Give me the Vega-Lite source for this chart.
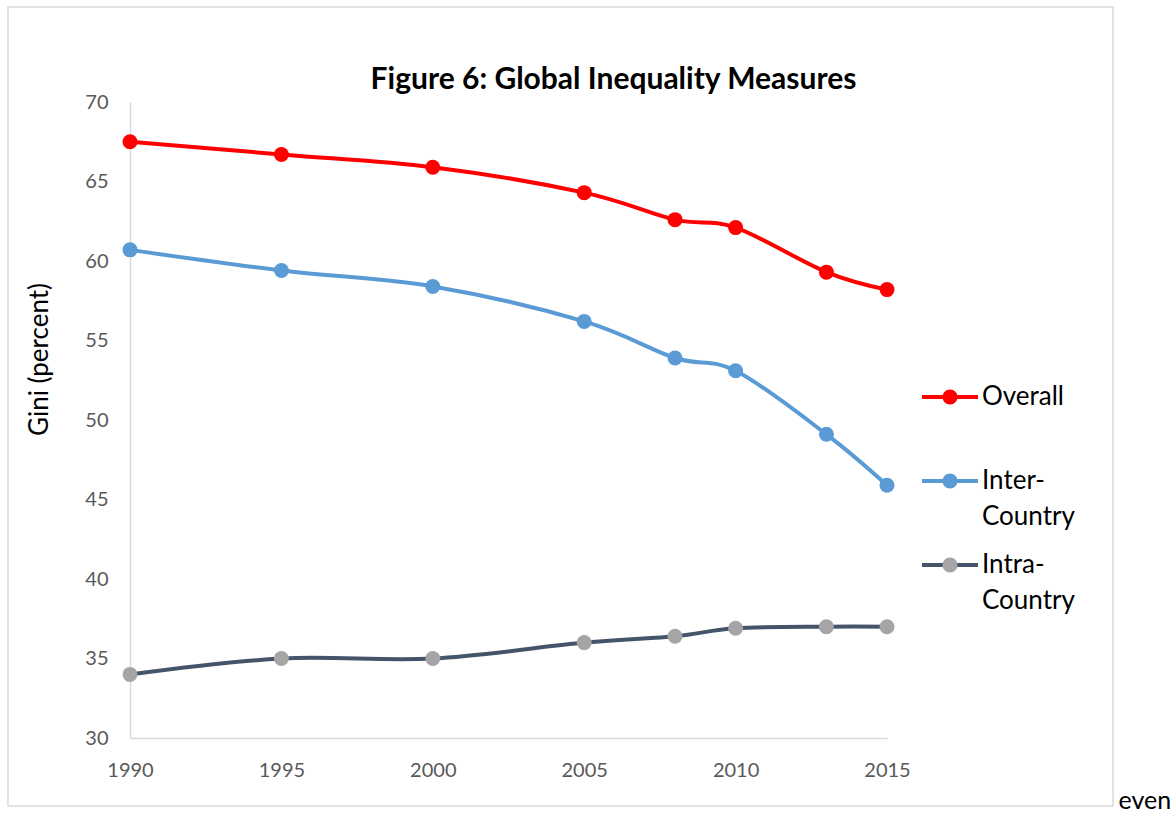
{
  "$schema": "https://vega.github.io/schema/vega-lite/v6.json",
  "width": 1105,
  "height": 799,
  "autosize": {"type": "none"},
  "padding": {"left": 8, "top": 7, "right": 63, "bottom": 8},
  "background": "white",
  "config": {
    "view": {"stroke": "#D9D9D9", "strokeWidth": 1.5},
    "font": "Lato",
    "style": {"guide-label": {"lineHeight": 36}}
  },
  "title": {
    "text": "Figure 6: Global Inequality Measures",
    "font": "Lato",
    "fontSize": 30,
    "fontWeight": "bold",
    "color": "#000000",
    "anchor": "middle",
    "frame": "group",
    "orient": "top",
    "baseline": "alphabetic",
    "offset": -112,
    "dx": 53
  },
  "data": {
    "values": [
      {"year": 1990, "series": "Overall", "gini": 67.5},
      {"year": 1995, "series": "Overall", "gini": 66.7},
      {"year": 2000, "series": "Overall", "gini": 65.9},
      {"year": 2005, "series": "Overall", "gini": 64.3},
      {"year": 2008, "series": "Overall", "gini": 62.6},
      {"year": 2010, "series": "Overall", "gini": 62.1},
      {"year": 2013, "series": "Overall", "gini": 59.3},
      {"year": 2015, "series": "Overall", "gini": 58.2},
      {"year": 1990, "series": "Inter-Country", "gini": 60.7},
      {"year": 1995, "series": "Inter-Country", "gini": 59.4},
      {"year": 2000, "series": "Inter-Country", "gini": 58.4},
      {"year": 2005, "series": "Inter-Country", "gini": 56.2},
      {"year": 2008, "series": "Inter-Country", "gini": 53.9},
      {"year": 2010, "series": "Inter-Country", "gini": 53.1},
      {"year": 2013, "series": "Inter-Country", "gini": 49.1},
      {"year": 2015, "series": "Inter-Country", "gini": 45.9},
      {"year": 1990, "series": "Intra-Country", "gini": 34.0},
      {"year": 1995, "series": "Intra-Country", "gini": 35.0},
      {"year": 2000, "series": "Intra-Country", "gini": 35.0},
      {"year": 2005, "series": "Intra-Country", "gini": 36.0},
      {"year": 2008, "series": "Intra-Country", "gini": 36.4},
      {"year": 2010, "series": "Intra-Country", "gini": 36.9},
      {"year": 2013, "series": "Intra-Country", "gini": 37.0},
      {"year": 2015, "series": "Intra-Country", "gini": 37.0}
    ]
  },
  "encoding": {
    "x": {
      "field": "year",
      "type": "quantitative",
      "scale": {"domain": [1990, 2015], "range": [122, 879], "nice": false, "zero": false},
      "axis": {
        "title": "even",
        "titleX": 1110,
        "titleY": 70,
        "titleAlign": "left",
        "titleBaseline": "alphabetic",
        "titleFont": "Lato",
        "titleFontSize": 25,
        "titleFontWeight": "normal",
        "titleColor": "#000000",
        "values": [1990, 1995, 2000, 2005, 2010, 2015],
        "format": "d",
        "offset": -68,
        "grid": false,
        "ticks": false,
        "tickSize": 0,
        "domainColor": "#D9D9D9",
        "domainWidth": 1.5,
        "labelFont": "Lato",
        "labelFontSize": 20,
        "labelColor": "#595959",
        "labelPadding": 22,
        "labelBaseline": "top",
        "labelFlush": false,
        "labelBound": false,
        "labelOverlap": false
      }
    },
    "y": {
      "field": "gini",
      "type": "quantitative",
      "scale": {"domain": [30, 70], "range": [731, 95], "nice": false, "zero": false},
      "axis": {
        "title": "Gini (percent)",
        "titleX": -91,
        "titleY": 352,
        "titleAngle": -90,
        "titleAlign": "center",
        "titleBaseline": "middle",
        "titleFont": "Lato",
        "titleFontSize": 26,
        "titleFontWeight": "normal",
        "titleColor": "#000000",
        "values": [30, 35, 40, 45, 50, 55, 60, 65, 70],
        "offset": -122,
        "grid": false,
        "ticks": false,
        "tickSize": 0,
        "domainColor": "#D9D9D9",
        "domainWidth": 1.5,
        "labelFont": "Lato",
        "labelFontSize": 20,
        "labelColor": "#595959",
        "labelPadding": 22,
        "labelFlush": false,
        "labelOverlap": false
      }
    }
  },
  "layer": [
    {
      "mark": {"type": "line", "interpolate": "cardinal", "strokeWidth": 4, "strokeCap": "round"},
      "encoding": {
        "stroke": {
          "field": "series",
          "type": "nominal",
          "scale": {
            "domain": ["Overall", "Inter-Country", "Intra-Country"],
            "range": ["#FF0000", "#5B9BD5", "#44546A"]
          },
          "legend": {
            "orient": "none",
            "legendX": 912,
            "legendY": 360,
            "title": null,
            "padding": 0,
            "symbolType": "stroke",
            "symbolSize": 3136,
            "symbolStrokeWidth": 4,
            "labelFont": "Lato",
            "labelFontSize": 26,
            "labelColor": "#000000",
            "labelOffset": 2,
            "labelLimit": 300,
            "labelExpr": "datum.label == 'Overall' ? 'Overall' : [substring(datum.label, 0, 6), 'Country']",
            "gridAlign": "all",
            "rowPadding": 5,
            "zindex": 0
          }
        }
      }
    },
    {
      "mark": {"type": "point", "filled": true, "size": 225, "opacity": 1, "strokeWidth": 0},
      "encoding": {
        "fill": {
          "field": "series",
          "type": "nominal",
          "sort": ["Overall", "Inter-Country", "Intra-Country"],
          "scale": {"range": ["#FF0000", "#5B9BD5", "#A5A5A5"]},
          "legend": {
            "orient": "none",
            "legendX": 912,
            "legendY": 360,
            "title": null,
            "padding": 0,
            "symbolType": "M0.268,0A0.268,0.268,0,1,1,-0.268,0A0.268,0.268,0,1,1,0.268,0Z",
            "symbolSize": 3136,
            "symbolStrokeWidth": 4,
            "symbolStrokeColor": "transparent",
            "symbolOpacity": 1,
            "labelFont": "Lato",
            "labelFontSize": 26,
            "labelOpacity": 0,
            "labelOffset": 2,
            "labelLimit": 300,
            "labelExpr": "datum.label == 'Overall' ? 'Overall' : [substring(datum.label, 0, 6), 'Country']",
            "gridAlign": "all",
            "rowPadding": 5,
            "zindex": 1
          }
        }
      }
    }
  ]
}
